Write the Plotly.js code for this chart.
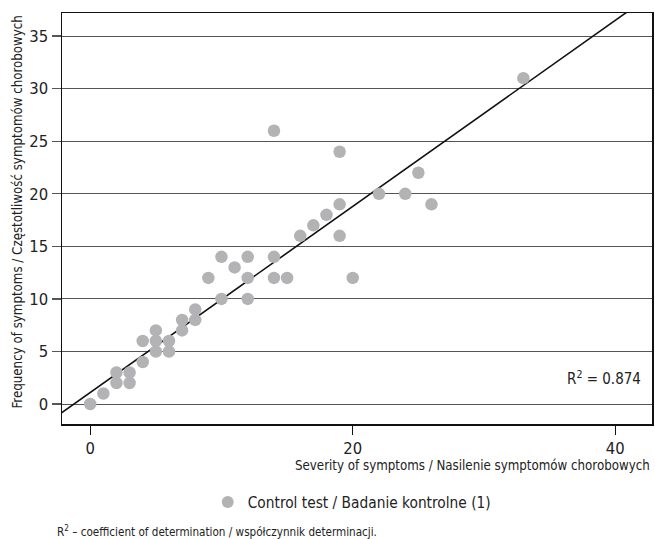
<!DOCTYPE html>
<html>
<head>
<meta charset="utf-8">
<script src="https://cdn.plot.ly/plotly-3.0.1.min.js"></script>
<style>html,body{margin:0;padding:0;background:#fff;}#chart{width:655px;height:539px;}</style>
</head>
<body>
<div id="chart"></div>
<script>
// Severity (x) and frequency (y) of symptoms, control test
const severity  = [0,1,2,2,3,3,4,4,5,5,5,6,6,7,7,8,8,9,10,10,11,12,12,12,14,14,15,16,17,18,19,19,20,14,19,33,25,22,24,26];
const frequency = [0,1,2,3,2,3,4,6,5,6,7,5,6,7,8,8,9,12,10,14,13,14,12,10,14,12,12,16,17,18,19,16,12,26,24,31,22,20,20,19];
// Regression line
const fitSlope = 0.885;
const fitIntercept = 1.1;
const rSquared = "0.874";
const xTicks = [0, 20, 40];
const yTicks = [0, 5, 10, 15, 20, 25, 30, 35];
const seriesName = "Control test / Badanie kontrolne (1)";
const xTitle = "Severity of symptoms / Nasilenie symptomów chorobowych";
const yTitle = "Frequency of symptoms / Częstotliwość symptomów chorobowych";
const footnote = "R<sup>2</sup> – coefficient of determination / współczynnik determinacji.";

const xRange = [-2.15, 42.8];
const yRange = [-1.9, 37.2];
const fitX = [xRange[0] - 0.1, xRange[1]];
const fitY = fitX.map(v => fitSlope * v + fitIntercept);

const FONT = '"Liberation Sans Narrow", "DejaVu Sans Condensed", "Roboto", sans-serif';

const traces = [
  {
    x: fitX, y: fitY, mode: 'lines', type: 'scatter',
    line: {color: '#111', width: 1.6}, showlegend: false, hoverinfo: 'skip'
  },
  {
    x: severity, y: frequency, mode: 'markers', type: 'scatter', name: seriesName,
    marker: {size: 12.5, color: '#b3b3b5'}, cliponaxis: false
  }
];

const layout = {
  width: 655, height: 539,
  margin: {l: 62, r: 3, t: 13, b: 115},
  paper_bgcolor: '#fff', plot_bgcolor: '#fff',
  font: {family: FONT, color: '#222', size: 15},
  showlegend: true,
  legend: {
    orientation: 'h', x: 0.247, xanchor: 'left', y: -0.19, yanchor: 'middle',
    font: {family: FONT, size: 15.3, color: '#222'}, itemsizing: 'constant',
    bgcolor: 'rgba(0,0,0,0)'
  },
  xaxis: {
    range: xRange, tickvals: xTicks, ticktext: xTicks.map(String),
    showgrid: false, zeroline: false,
    showline: true, mirror: true, linecolor: '#111', linewidth: 1.5,
    ticks: 'outside', ticklen: 9, tickwidth: 1.3, tickcolor: '#111',
    tickfont: {family: FONT, size: 16.5, color: '#222'}
  },
  yaxis: {
    range: yRange, tickvals: yTicks, ticktext: yTicks.map(String),
    showgrid: true, gridcolor: '#555', gridwidth: 1, zeroline: false,
    showline: true, mirror: true, linecolor: '#111', linewidth: 1.5,
    ticks: 'outside', ticklen: 9, tickwidth: 1.3, tickcolor: '#555',
    tickfont: {family: FONT, size: 16.5, color: '#222'}
  },
  annotations: [
    {
      text: xTitle, xref: 'paper', yref: 'paper', x: 1, y: -0.1, xanchor: 'right', yanchor: 'middle',
      showarrow: false, font: {family: FONT, size: 13.2, color: '#222'}
    },
    {
      text: yTitle, xref: 'paper', yref: 'paper', x: -0.076, y: 0.515, xanchor: 'center', yanchor: 'middle',
      textangle: -90, showarrow: false, font: {family: FONT, size: 13.2, color: '#222'}
    },
    {
      text: 'R<sup>2</sup> = ' + rSquared, xref: 'paper', yref: 'paper', x: 0.985, y: 0.112,
      xanchor: 'right', yanchor: 'middle', showarrow: false,
      font: {family: FONT, size: 15, color: '#222'}
    },
    {
      text: footnote, xref: 'paper', yref: 'paper', x: -0.012, y: -0.261, xanchor: 'left', yanchor: 'middle',
      showarrow: false, font: {family: FONT, size: 11.6, color: '#222'}
    }
  ]
};

Plotly.newPlot('chart', traces, layout, {displayModeBar: false, staticPlot: true});
</script>
</body>
</html>
